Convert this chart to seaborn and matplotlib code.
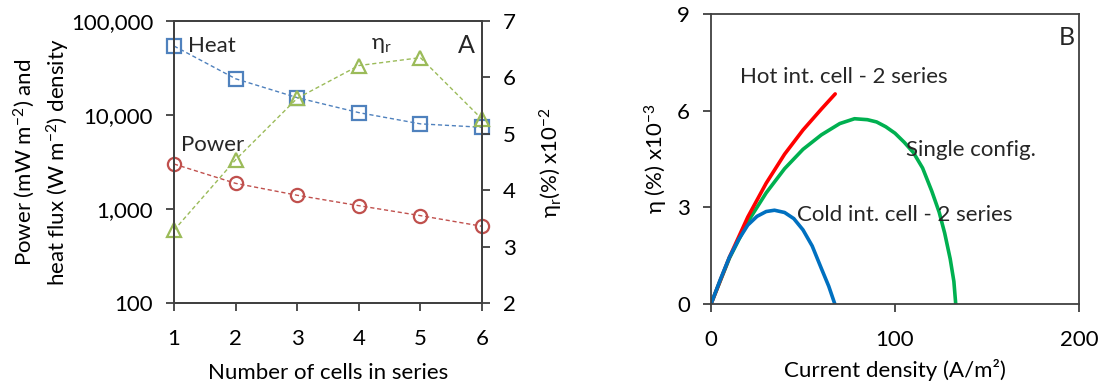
import matplotlib
matplotlib.use("Agg")
import matplotlib.pyplot as plt
import matplotlib.ticker as mticker
import seaborn as sns

# ---------------- data: panel A ----------------
cells = [1, 2, 3, 4, 5, 6]
heat_flux = [54200, 24300, 15300, 10600, 8050, 7400]      # W m-2
power_density = [3010, 1875, 1400, 1085, 850, 655]        # mW m-2
eta_r = [3.29, 4.54, 5.63, 6.21, 6.35, 5.26]              # % x10-2

# ---------------- data: panel B ----------------
single_x = [0, 10, 20, 30, 40, 50, 60, 70, 78, 85, 90, 95, 100, 105, 110, 115, 120, 124, 127, 130, 132, 133]
single_y = [0, 1.42, 2.55, 3.45, 4.2, 4.8, 5.25, 5.6, 5.75, 5.72, 5.65, 5.5, 5.3, 5.02, 4.7, 4.22, 3.5, 2.85, 2.2, 1.4, 0.7, 0]

hot_x = [0, 10, 20, 30, 40, 50, 60, 67.5]
hot_y = [0, 1.45, 2.7, 3.75, 4.65, 5.4, 6.05, 6.52]

cold_x = [0, 5, 10, 15, 20, 25, 30, 34.5, 40, 45, 50, 55, 60, 64, 67.3]
cold_y = [0, 0.75, 1.45, 2.0, 2.45, 2.72, 2.87, 2.91, 2.84, 2.65, 2.3, 1.8, 1.1, 0.55, 0]

xticks_A = [1, 2, 3, 4, 5, 6]
yticks_A = [100, 1000, 10000, 100000]
yticks_A2 = [2, 3, 4, 5, 6, 7]
xticks_B = [0, 100, 200]
yticks_B = [0, 3, 6, 9]

# ---------------- style ----------------
sns.set_theme(style="white")
plt.rcParams["font.family"] = ["Lato", "DejaVu Sans"]
plt.rcParams["mathtext.default"] = "regular"
FS = 16
FA = 16
SPINE = "#404040"

C_HEAT = "#4F81BD"
C_POWER = "#C0504D"
C_ETA = "#9BBB59"
C_SINGLE = "#00B050"
C_HOT = "#FF0000"
C_COLD = "#0070C0"

fig = plt.figure(figsize=(11.04, 3.86), dpi=100)
ax1 = fig.add_axes([174 / 1104, 83 / 386, 308 / 1104, 282 / 386])
ax2 = ax1.twinx()
ax3 = fig.add_axes([711 / 1104, 82 / 386, 368 / 1104, 290 / 386])

dash = (0, (3, 2))
mk = dict(markersize=9.5, markerfacecolor="none", markeredgewidth=1.6,
          linewidth=1.0, linestyle=dash, clip_on=False)

sns.lineplot(x=cells, y=heat_flux, ax=ax1, color=C_HEAT, marker="s",
             markeredgecolor=C_HEAT, **mk)
sns.lineplot(x=cells, y=power_density, ax=ax1, color=C_POWER, marker="o",
             markeredgecolor=C_POWER, **mk)
sns.lineplot(x=cells, y=eta_r, ax=ax2, color=C_ETA, marker="^",
             markeredgecolor=C_ETA, **mk)

ax1.set_yscale("log")
ax1.set_ylim(100, 100000)
ax1.set_xlim(1, 6)
ax2.set_ylim(2, 7)
ax1.set_xticks(xticks_A)
ax1.set_yticks(yticks_A)
ax1.yaxis.set_major_formatter(mticker.FuncFormatter(lambda v, p: f"{int(round(v)):,}"))
ax1.yaxis.set_minor_locator(mticker.NullLocator())
ax2.set_yticks(yticks_A2)

for a in (ax1, ax2, ax3):
    for s in a.spines.values():
        s.set_color(SPINE)
        s.set_linewidth(1.3)
        s.set_visible(True)
    a.tick_params(direction="out", length=6, width=1.3, color=SPINE,
                  labelsize=FS, labelcolor="black", pad=9)
    a.grid(False)

ax1.tick_params(axis="y", left=True, right=False)
ax1.tick_params(axis="x", bottom=True, top=False, pad=13)
ax2.tick_params(axis="y", right=True, left=False)
ax3.tick_params(axis="x", pad=13)

ax1.set_xlabel("Number of cells in series", fontsize=FS, color="black", labelpad=10)
ax1.set_ylabel("Power (mW m$^{-2}$) and\nheat flux (W m$^{-2}$) density",
               fontsize=FS, color="black", linespacing=1.4, labelpad=-1)
ax2.set_ylabel("η$_r$(%) x10$^{-2}$", fontsize=FS, color="black", labelpad=16)

ax1.text(0.045, 0.913, "Heat", transform=ax1.transAxes, fontsize=FA, va="center", ha="left")
ax1.text(0.022, 0.56, "Power", transform=ax1.transAxes, fontsize=FA, va="center", ha="left")
ax1.text(0.64, 0.915, "η$_r$", transform=ax1.transAxes, fontsize=FA, va="center", ha="left")
ax1.text(0.922, 0.912, "A", transform=ax1.transAxes, fontsize=18, va="center", ha="left")

# ---------------- panel B ----------------
lw = 2.6
sns.lineplot(x=single_x, y=single_y, ax=ax3, color=C_SINGLE, linewidth=lw)
sns.lineplot(x=hot_x, y=hot_y, ax=ax3, color=C_HOT, linewidth=lw)
sns.lineplot(x=cold_x, y=cold_y, ax=ax3, color=C_COLD, linewidth=lw)

ax3.set_xlim(0, 200)
ax3.set_ylim(0, 9)
ax3.set_xticks(xticks_B)
ax3.set_yticks(yticks_B)
ax3.tick_params(axis="y", left=True, right=False)
ax3.tick_params(axis="x", bottom=True, top=False)
ax3.set_xlabel("Current density (A/m²)", fontsize=FS, color="black", labelpad=6)
ax3.set_ylabel("η (%) x10$^{-3}$", fontsize=FS, color="black", labelpad=5)

ax3.text(0.078, 0.783, "Hot int. cell - 2 series", transform=ax3.transAxes, fontsize=FA, va="center", ha="left")
ax3.text(0.53, 0.531, "Single config.", transform=ax3.transAxes, fontsize=FA, va="center", ha="left")
ax3.text(0.233, 0.307, "Cold int. cell - 2 series", transform=ax3.transAxes, fontsize=FA, va="center", ha="left")
ax3.text(0.945, 0.92, "B", transform=ax3.transAxes, fontsize=18, va="center", ha="left")

fig.savefig("out.png", dpi=100)
